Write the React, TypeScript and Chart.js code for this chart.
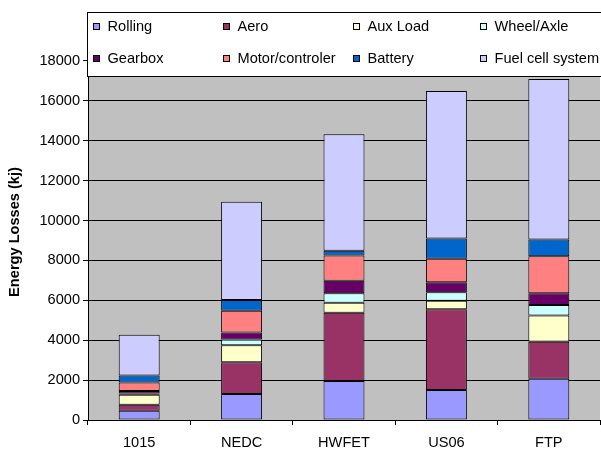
import React, { useEffect, useRef } from 'react';
import { Chart, registerables } from 'chart.js';

Chart.register(...registerables);

const categories = ['1015', 'NEDC', 'HWFET', 'US06', 'FTP'];
const seriesLabels = ['Rolling', 'Aero', 'Aux Load', 'Wheel/Axle', 'Gearbox', 'Motor/controler', 'Battery', 'Fuel cell system'];
const rolling = [460, 1300, 1950, 1500, 2070];
const aero = [300, 1600, 3425, 4050, 1850];
const auxLoad = [500, 850, 500, 430, 1325];
const wheelAxle = [70, 290, 475, 430, 515];
const gearbox = [130, 350, 630, 500, 590];
const motorControler = [420, 1085, 1270, 1170, 1865];
const battery = [350, 535, 230, 1020, 835];
const fuelCell = [2050, 4930, 5850, 7400, 8050];
const seriesColors = ['#9999FF', '#993366', '#FFFFCC', '#CCFFFF', '#660066', '#FF8080', '#0066CC', '#CCCCFF'];
const yTickValues = [0, 2000, 4000, 6000, 8000, 10000, 12000, 14000, 16000, 18000];
const yMax = 18850;
const yTitle = 'Energy Losses (kj)';

const FONT = "'Liberation Sans', Arial, sans-serif";
const FS = 14.6;

const bgPlugin = {
  id: 'plotBg',
  beforeDraw(chart: any) {
    const { ctx, chartArea } = chart;
    ctx.save();
    ctx.fillStyle = '#C0C0C0';
    ctx.fillRect(chartArea.left, chartArea.top, chartArea.right - chartArea.left, chartArea.bottom - chartArea.top);
    ctx.restore();
  },
};

const legendPlugin = {
  id: 'gridLegend',
  afterDraw(chart: any) {
    const { ctx } = chart;
    const colX = [93, 223, 353, 480];
    const rowY = [27, 59];
    ctx.save();
    ctx.fillStyle = '#FFFFFF';
    ctx.strokeStyle = '#000000';
    ctx.lineWidth = 1;
    ctx.fillRect(87.5, 12.5, 530, 64);
    ctx.strokeRect(87.5, 12.5, 530, 64);
    ctx.font = `${FS}px ${FONT}`;
    ctx.textBaseline = 'middle';
    ctx.textAlign = 'left';
    chart.data.datasets.forEach((ds: any, i: number) => {
      const x = colX[i % 4];
      const y = rowY[Math.floor(i / 4)];
      ctx.fillStyle = ds.backgroundColor;
      ctx.fillRect(x + 0.5, y - 3.5, 6, 6);
      ctx.strokeStyle = '#000';
      ctx.strokeRect(x + 0.5, y - 3.5, 6, 6);
      ctx.fillStyle = '#000';
      ctx.fillText(ds.label, x + 14.5, y);
    });
    ctx.restore();
  },
};

export default function App() {
  const ref = useRef<HTMLCanvasElement>(null);
  useEffect(() => {
    document.body.style.margin = '0';
    const values = [rolling, aero, auxLoad, wheelAxle, gearbox, motorControler, battery, fuelCell];
    const chart = new Chart(ref.current as HTMLCanvasElement, {
      type: 'bar',
      data: {
        labels: categories,
        datasets: values.map((v, i) => ({
          label: seriesLabels[i],
          data: v,
          backgroundColor: seriesColors[i],
          borderColor: '#000000',
          borderWidth: 1,
          borderSkipped: false,
          categoryPercentage: 1,
          barPercentage: 0.4,
        })),
      },
      options: {
        animation: false,
        responsive: true,
        maintainAspectRatio: false,
        layout: { padding: { top: 44, right: 1, left: 0, bottom: 0 } },
        plugins: { legend: { display: false }, tooltip: { enabled: false } },
        scales: {
          x: {
            stacked: true,
            grid: { drawOnChartArea: false, drawTicks: true, tickLength: 5, color: '#000', offset: true },
            border: { color: '#000' },
            ticks: { color: '#000', font: { family: FONT, size: FS }, padding: 9 },
            afterFit(scale: any) { scale.height = 30; },
          },
          y: {
            stacked: true,
            min: 0,
            max: yMax,
            grid: { color: '#000', tickLength: 5 },
            border: { color: '#000' },
            ticks: { color: '#000', font: { family: FONT, size: FS }, padding: 3, callback: (v: any) => String(v) },
            afterBuildTicks(scale: any) { scale.ticks = yTickValues.map((v) => ({ value: v })); },
            title: { display: true, text: yTitle, color: '#000', font: { family: FONT, size: FS, weight: 'bold' }, padding: { top: 6, bottom: 0 } },
            afterFit(scale: any) { scale.width = 88; },
          },
        },
      },
      plugins: [bgPlugin, legendPlugin],
    });
    return () => chart.destroy();
  }, []);
  return (
    <div style={{ width: 601, height: 450, position: 'relative' }}>
      <canvas ref={ref} />
    </div>
  );
}
